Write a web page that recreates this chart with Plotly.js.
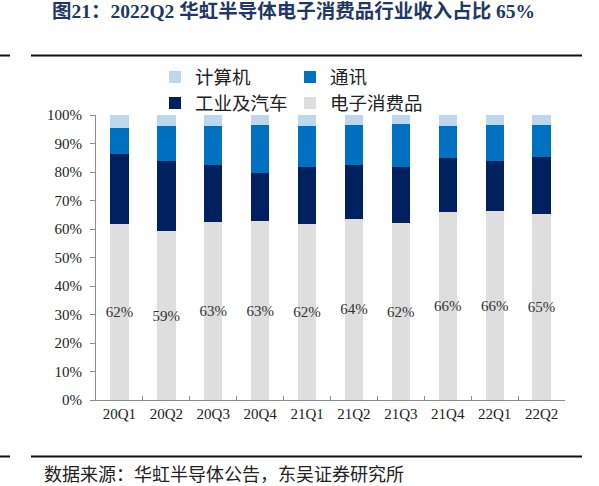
<!DOCTYPE html>
<html>
<head>
<meta charset="utf-8">
<script src="https://cdn.plot.ly/plotly-3.0.1.min.js"></script>
<style>
html,body{margin:0;padding:0;background:#fff;}
#chart{width:599px;height:486px;}
</style>
</head>
<body>
<div id="chart"></div>
<script>
// ---- data ----
const quarters = ['20Q1','20Q2','20Q3','20Q4','21Q1','21Q2','21Q3','21Q4','22Q1','22Q2'];
const consumer   = [61.8, 59.2, 62.6, 62.8, 61.9, 63.6, 62.1, 66.0, 66.2, 65.1]; // 电子消费品
const industrial = [24.6, 24.8, 19.9, 17.0, 19.7, 18.9, 19.8, 18.8, 17.8, 20.3]; // 工业及汽车
const comm       = [ 9.1, 12.2, 13.7, 16.7, 14.4, 14.1, 14.8, 11.4, 12.4, 11.2]; // 通讯
const computer   = [ 4.5,  3.8,  3.8,  3.5,  4.0,  3.4,  3.3,  3.8,  3.6,  3.4]; // 计算机
const seriesNames = ['电子消费品','工业及汽车','通讯','计算机'];
const titleText = '图21：2022Q2 华虹半导体电子消费品行业收入占比 65%';
const sourceText = '数据来源：华虹半导体公告，东吴证券研究所';

// ---- geometry helpers (plot area: x 96..565, y 115..400 px) ----
const PL = 96, PR = 565, PT = 115, PB = 400;
const px = v => (v - PL) / (PR - PL);
const py = v => (PB - v) / (PB - PT);

const serif = 'Liberation Serif, Times New Roman, Noto Sans CJK SC, serif';
const cjk = 'Noto Sans CJK SC, sans-serif';

const colors = ['#DEDEDE', '#002060', '#0070C0', '#BDD7EE'];
const values = [consumer, industrial, comm, computer];
const legendIds = ['legend4', 'legend3', 'legend2', 'legend'];

const traces = values.map((vals, i) => ({
  type: 'bar',
  name: seriesNames[i],
  x: quarters,
  y: vals,
  marker: {color: colors[i], line: {width: 0}},
  legend: legendIds[i],
  showlegend: true,
  hoverinfo: 'skip',
  texttemplate: i === 0 ? '%{y:.0f}%' : '',
  textposition: i === 0 ? 'inside' : 'none',
  textangle: 0,
  insidetextanchor: 'middle',
  textfont: {family: serif, size: 15, color: '#333333'},
  constraintext: 'none'
}));

const legendBase = (x, y) => ({
  x: px(x), y: py(y), xanchor: 'left', yanchor: 'middle',
  orientation: 'h', bgcolor: 'rgba(0,0,0,0)', borderwidth: 0,
  font: {family: cjk, size: 18.5, color: '#222222'},
  itemclick: false, itemdoubleclick: false, visible: true
});

const lineStyle = {color: '#111111', width: 2};
const layout = {
  width: 599, height: 486,
  margin: {l: PL, r: 599 - PR, t: PT, b: 486 - PB, pad: 0},
  paper_bgcolor: '#ffffff', plot_bgcolor: '#ffffff',
  showlegend: true,
  barmode: 'stack', bargap: 0.61,
  title: {
    text: titleText, x: 0.49, xanchor: 'center', y: 1 - 11 / 486, yanchor: 'middle',
    font: {family: serif, size: 19.5, color: '#1F3864', weight: 'bold'}
  },
  xaxis: {
    type: 'category', showgrid: false, zeroline: false,
    showline: true, linecolor: '#8C8C8C', linewidth: 1,
    ticks: 'inside', tickson: 'boundaries', ticklen: 4, tickcolor: '#8C8C8C',
    tickfont: {family: serif, size: 15, color: '#222222'}, fixedrange: true
  },
  yaxis: {
    range: [0, 100], dtick: 10, ticksuffix: '%', showgrid: false, zeroline: false,
    showline: true, linecolor: '#8C8C8C', linewidth: 1,
    ticks: 'outside', ticklen: 5, tickcolor: '#8C8C8C', ticklabelstandoff: 5,
    tickfont: {family: serif, size: 15, color: '#222222'}, fixedrange: true
  },
  legend: legendBase(155, 77.5),
  legend2: legendBase(290, 77.5),
  legend3: legendBase(155, 103.5),
  legend4: legendBase(290, 103.5),
  shapes: [
    {type: 'line', xref: 'paper', yref: 'paper', x0: px(0), x1: px(10), y0: py(55.5), y1: py(55.5), line: lineStyle},
    {type: 'line', xref: 'paper', yref: 'paper', x0: px(31), x1: px(582), y0: py(55.5), y1: py(55.5), line: lineStyle},
    {type: 'line', xref: 'paper', yref: 'paper', x0: px(0), x1: px(10), y0: py(456.5), y1: py(456.5), line: lineStyle},
    {type: 'line', xref: 'paper', yref: 'paper', x0: px(31), x1: px(582), y0: py(456.5), y1: py(456.5), line: lineStyle}
  ],
  annotations: [
    {text: sourceText, xref: 'paper', yref: 'paper', x: px(42), y: py(473),
     xanchor: 'left', yanchor: 'middle', showarrow: false,
     font: {family: cjk, size: 18, color: '#222222'}}
  ]
};

Plotly.newPlot('chart', traces, layout, {displayModeBar: false, staticPlot: true});
</script>
</body>
</html>
